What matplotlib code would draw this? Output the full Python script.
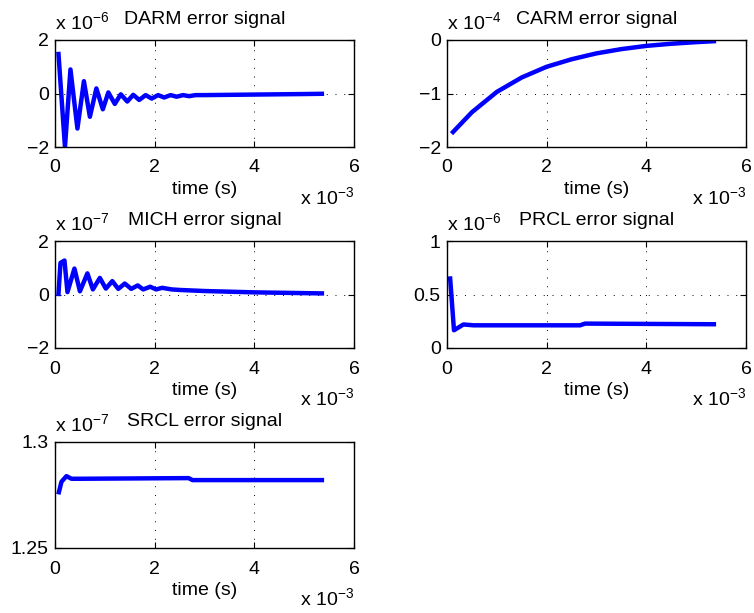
import matplotlib
matplotlib.use("Agg")
import matplotlib.pyplot as plt
from matplotlib.ticker import FixedLocator, FuncFormatter

plt.rcParams['font.family'] = ['Liberation Sans', 'DejaVu Sans']
plt.rcParams['mathtext.fontset'] = 'custom'
plt.rcParams['mathtext.rm'] = 'Liberation Sans'
plt.rcParams['mathtext.it'] = 'Liberation Sans:italic'
plt.rcParams['mathtext.bf'] = 'Liberation Sans:bold'

# ---- data (time in units of 1e-3 s, signals in units shown in the exponent) ----
darm_t = [0.067, 0.20, 0.31, 0.45, 0.58, 0.70, 0.83, 0.96, 1.07, 1.20, 1.32, 1.45,
          1.57, 1.69, 1.82, 1.94, 2.07, 2.19, 2.32, 2.44, 2.57, 2.69, 2.82, 3.0,
          3.5, 4.0, 4.5, 5.0, 5.4]
darm_v = [1.56, -2.0, 0.90, -1.31, 0.46, -0.87, 0.19, -0.59, 0.04, -0.39, -0.03, -0.30,
          -0.05, -0.24, -0.06, -0.19, -0.06, -0.15, -0.06, -0.12, -0.06, -0.10, -0.06, -0.06,
          -0.05, -0.04, -0.03, -0.02, -0.01]

carm_t = [0.09, 0.5, 1.0, 1.5, 2.0, 2.5, 3.0, 3.5, 4.0, 4.5, 5.0, 5.4]
carm_v = [-1.75, -1.35, -0.97, -0.70, -0.50, -0.36, -0.25, -0.17, -0.11, -0.07, -0.04, -0.02]

mich_t = [0.067, 0.11, 0.19, 0.25, 0.39, 0.50, 0.65, 0.76, 0.90, 1.02, 1.15, 1.27,
          1.40, 1.53, 1.66, 1.77, 1.91, 2.03, 2.15, 2.34, 2.5, 3.0, 4.0, 5.4]
mich_v = [-0.06, 1.18, 1.27, 0.09, 0.97, 0.12, 0.79, 0.19, 0.62, 0.22, 0.50, 0.21,
          0.41, 0.21, 0.34, 0.19, 0.29, 0.19, 0.25, 0.19, 0.17, 0.13, 0.08, 0.04]

prcl_t = [0.06, 0.14, 0.33, 0.53, 2.67, 2.77, 5.4]
prcl_v = [0.67, 0.166, 0.22, 0.212, 0.212, 0.228, 0.222]

srcl_t = [0.067, 0.13, 0.23, 0.33, 0.5, 2.68, 2.76, 5.4]
srcl_v = [1.2753, 1.28125, 1.2839, 1.28266, 1.28266, 1.28297, 1.28203, 1.28203]

panels = [
    ("DARM error signal", darm_t, darm_v, (-2, 2), [-2, 0, 2], -6),
    ("CARM error signal", carm_t, carm_v, (-2, 0), [-2, -1, 0], -4),
    ("MICH error signal", mich_t, mich_v, (-2, 2), [-2, 0, 2], -7),
    ("PRCL error signal", prcl_t, prcl_v, (0, 1), [0, 0.5, 1], -6),
    ("SRCL error signal", srcl_t, srcl_v, (1.25, 1.3), [1.25, 1.3], -7),
]
x_ticks = [0, 2, 4, 6]

W, H = 754, 613
fig = plt.figure(figsize=(W / 100, H / 100), dpi=100)

# pixel boxes (left, top, right, bottom)
boxes = [
    (55, 40, 354, 147),
    (447, 40, 746, 147),
    (55, 241, 354, 348),
    (447, 241, 746, 348),
    (55, 442, 354, 548),
]
FS = 14
px = 0.72  # points per pixel at 100 dpi

fmt = FuncFormatter(lambda v, p: ('%g' % v).replace('-', '\u2212'))

for (title, t, v, ylim, yt, expo), (l, tp, r, b) in zip(panels, boxes):
    ax = fig.add_axes([l / W, 1 - b / H, (r - l) / W, (b - tp) / H])
    ax.plot(t, v, color='#0000ff', lw=3.2, solid_joinstyle='round', solid_capstyle='butt')
    ax.set_xlim(0, 6)
    ax.set_ylim(*ylim)
    ax.xaxis.set_major_locator(FixedLocator(x_ticks))
    ax.yaxis.set_major_locator(FixedLocator(yt))
    ax.xaxis.set_major_formatter(fmt)
    ax.yaxis.set_major_formatter(fmt)
    ax.tick_params(direction='in', top=True, right=True, length=4, width=0.8,
                   labelsize=FS, colors='k')
    ax.tick_params(axis='x', pad=9)
    ax.tick_params(axis='y', pad=4.5)
    ax.grid(True, color='k', linestyle=(0, (1, 8)), linewidth=0.7)
    for s in ax.spines.values():
        s.set_linewidth(1.0)
    ax.set_title(title, fontsize=FS, pad=16 * px)
    ax.set_xlabel('time (s)', fontsize=FS, labelpad=3)
    ax.annotate(r'x 10$^{%d}$' % expo, xy=(0, 1), xycoords='axes fraction',
                xytext=(0, 11 * px), textcoords='offset points',
                ha='left', va='baseline', fontsize=FS)
    ax.annotate(r'x 10$^{-3}$', xy=(1, 0), xycoords='axes fraction',
                xytext=(0, -57 * px), textcoords='offset points',
                ha='right', va='baseline', fontsize=FS)

fig.savefig('out.png', dpi=100)
